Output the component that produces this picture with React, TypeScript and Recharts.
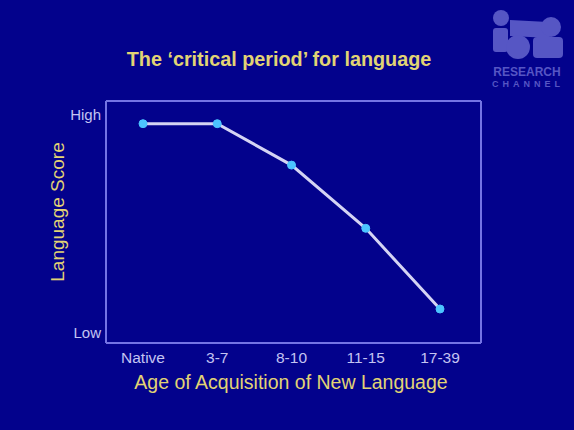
import React from "react";
import { LineChart, Line, XAxis, YAxis, CartesianGrid } from "recharts";

const categories = ["Native", "3-7", "8-10", "11-15", "17-39"];
const scores = [96, 96, 77, 48, 11];
const yTickValues = [0, 100];
const yTickLabels: Record<number, string> = { 0: "Low", 100: "High" };

const data = categories.map((c, i) => ({ age: c, score: scores[i] }));

const BG = "#03028c";
const YELLOW = "#e2d474";
const TICK = "#c4c4f2";
const FRAME = "#7474e4";
const FONT = "'Liberation Sans', Arial, sans-serif";

function Logo() {
  const c = "#5656c4";
  return (
    <svg width={94} height={100} style={{ position: "absolute", left: 480, top: 0 }}>
      <circle cx={21} cy={18} r={8} fill={c} />
      <rect x={13} y={28} width={15} height={24} rx={3} fill={c} />
      <polygon points={[30, 20, 68, 22, 70, 38, 30, 36].join(",")} fill={c} />
      <circle cx={71} cy={27} r={10} fill={c} />
      <circle cx={38} cy={47} r={12} fill={c} />
      <rect x={53} y={37} width={30} height={21} rx={4} fill={c} />
      <text x={47} y={76} textAnchor="middle" fill={c} fontFamily={FONT} fontWeight="bold" fontSize={12}>
        RESEARCH
      </text>
      <text x={48} y={87} textAnchor="middle" fill={c} fontFamily={FONT} fontWeight="bold" fontSize={9} letterSpacing={4}>
        CHANNEL
      </text>
    </svg>
  );
}

export default function App() {
  return (
    <div
      style={{
        position: "fixed",
        left: 0,
        top: 0,
        width: 574,
        height: 430,
        background: BG,
        fontFamily: FONT,
        overflow: "hidden",
      }}
    >
      <div
        style={{
          position: "absolute",
          left: 0,
          width: 574,
          top: 48,
          textAlign: "center",
          color: YELLOW,
          fontWeight: "bold",
          fontSize: 19.8,
          paddingRight: 16,
          boxSizing: "border-box",
        }}
      >
        The ‘critical period’ for language
      </div>
      <Logo />
      <div style={{ position: "absolute", left: 0, top: 0 }}>
        <LineChart width={574} height={430} data={data} margin={{ top: 101, right: 93, left: 0, bottom: 0 }}>
          <CartesianGrid
            stroke={FRAME}
            strokeWidth={2}
            fill="none"
            horizontalCoordinatesGenerator={({ offset }: any) => [offset.top]}
            verticalCoordinatesGenerator={({ offset }: any) => [offset.left + offset.width]}
          />
          <XAxis
            dataKey="age"
            height={87}
            padding={{ left: 37, right: 41 }}
            axisLine={{ stroke: FRAME, strokeWidth: 2 }}
            tickLine={false}
            tickSize={0}
            tickMargin={9}
            tick={{ fill: TICK, fontSize: 15.5, fontFamily: FONT }}
            interval={0}
          />
          <YAxis
            width={106}
            type="number"
            domain={[-4.6, 106.4]}
            ticks={yTickValues}
            tickFormatter={(v: number) => yTickLabels[v] ?? ""}
            axisLine={{ stroke: FRAME, strokeWidth: 2 }}
            tickLine={false}
            tickSize={0}
            tickMargin={5}
            tick={{ fill: TICK, fontSize: 15, fontFamily: FONT }}
            allowDataOverflow
          />
          <Line
            type="linear"
            dataKey="score"
            stroke="#d4d4f4"
            strokeWidth={3}
            dot={{ r: 4, fill: "#4cc4ff", stroke: "#4cc4ff", strokeWidth: 1 }}
            isAnimationActive={false}
          />
        </LineChart>
      </div>
      <svg width={574} height={430} style={{ position: "absolute", left: 0, top: 0, pointerEvents: "none" }}>
        <text
          x={0}
          y={0}
          transform="translate(64 212) rotate(-90)"
          textAnchor="middle"
          fill={YELLOW}
          fontSize={19}
          fontFamily={FONT}
        >
          Language Score
        </text>
        <text x={291} y={389} textAnchor="middle" fill={YELLOW} fontSize={19.5} fontFamily={FONT}>
          Age of Acquisition of New Language
        </text>
      </svg>
    </div>
  );
}
